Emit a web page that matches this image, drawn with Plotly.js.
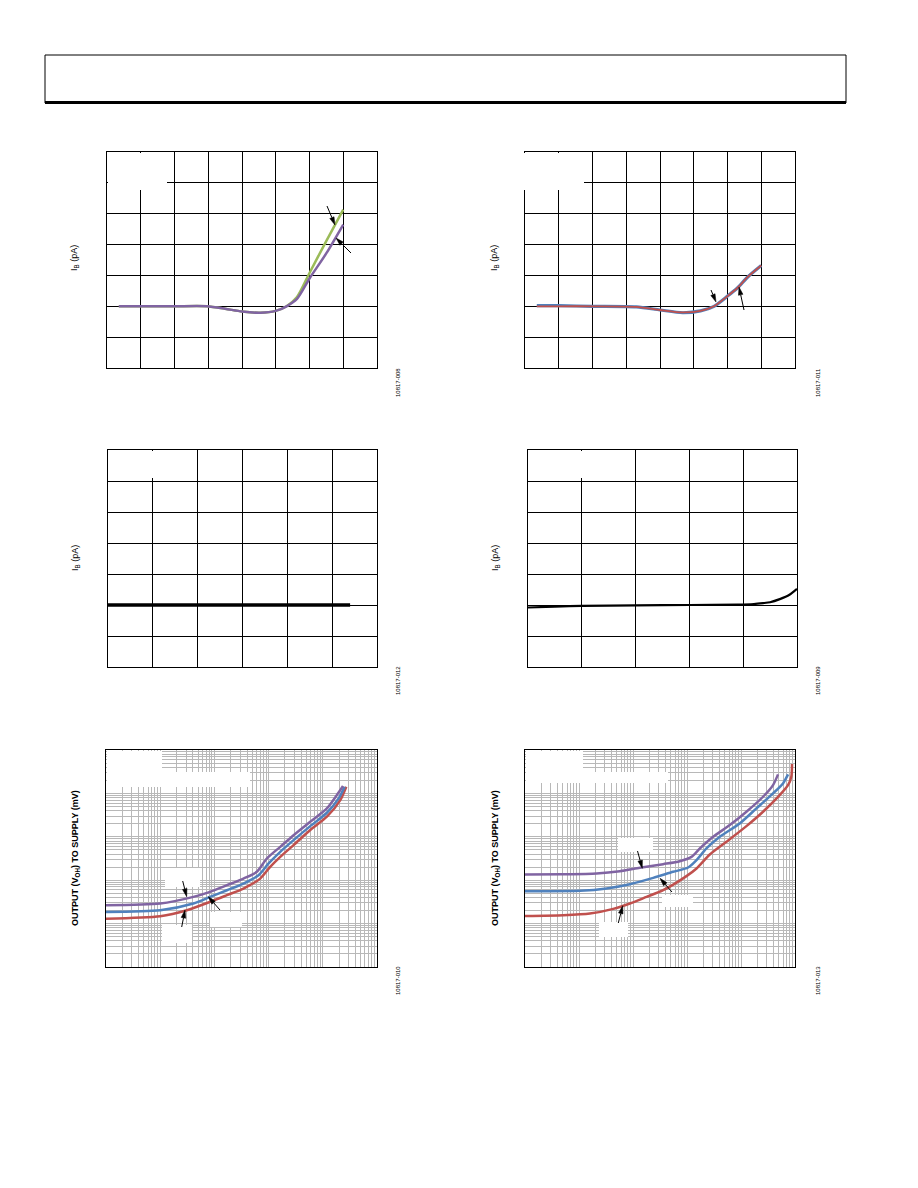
<!DOCTYPE html>
<html><head><meta charset="utf-8">
<script src="https://cdn.plot.ly/plotly-3.0.1.min.js"></script>
<style>html,body{margin:0;padding:0;background:#fff;} #chart{width:918px;height:1188px;}</style>
</head><body><div id="chart"></div>
<script>
// ---------- DATA ----------
// Figure 10817-008 (grid units)
const fig1X      = [0.35, 1, 2, 2.96, 3.5, 4.0, 4.54, 5.0, 5.32, 5.63, 6.0, 6.5, 7.0];
const fig1Green  = [0, 0, 0, 0, -0.08, -0.17, -0.21, -0.15, 0, 0.3, 1.08, 2.12, 3.13];
const fig1Purple = [0, 0, 0, 0, -0.08, -0.17, -0.21, -0.15, 0, 0.24, 0.9, 1.72, 2.65];
// Figure 10817-011
const fig2X    = [0.35, 1, 2, 3.3, 4.0, 4.67, 5.2, 5.6, 6.0, 6.3, 6.6, 7.0];
const fig2Blue = [0.02, 0.02, 0, -0.02, -0.12, -0.21, -0.15, 0, 0.33, 0.6, 0.95, 1.32];
const fig2Red  = [0, 0, 0, -0.02, -0.12, -0.2, -0.15, 0, 0.33, 0.6, 0.95, 1.32];
// Figure 10817-012
const fig3X = [0, 1, 2, 3, 4, 5, 5.4];
const fig3Y = [0, 0, 0, 0, 0, 0, 0];
// Figure 10817-009
const fig4X = [0, 0.5, 1, 2, 3, 3.9, 4.2, 4.37, 4.5, 4.68, 4.86, 5.0];
const fig4Y = [-0.08, -0.05, -0.03, -0.01, 0, 0.01, 0.03, 0.06, 0.09, 0.19, 0.33, 0.52];
// Figure 10817-010 (load current mA, output to supply mV)
const fig5PurpleX = [0.001, 0.01, 0.041, 0.083, 0.17, 0.344, 0.607, 0.929, 1.64, 2.89, 5.86, 11.9, 18.2, 23.6];
const fig5PurpleY = [2.65, 2.9, 4.12, 5.38, 7.67, 10.9, 15.6, 31.6, 58.7, 109, 222, 451, 916, 1476];
const fig5BlueX   = [0.001, 0.01, 0.041, 0.083, 0.17, 0.344, 0.652, 1.0, 1.64, 2.89, 5.86, 11.9, 19.6, 25.3];
const fig5BlueY   = [1.86, 2.03, 2.9, 4.12, 5.87, 8.38, 13.0, 24.3, 45.1, 83.8, 176, 358, 767, 1426];
const fig5RedX    = [0.001, 0.01, 0.031, 0.083, 0.17, 0.344, 0.70, 1.07, 1.64, 2.89, 5.86, 11.9, 21.0, 27.1];
const fig5RedY    = [1.30, 1.48, 2.03, 3.16, 4.51, 6.43, 10.9, 20.3, 34.5, 64.3, 143, 290, 701, 1426];
// Figure 10817-013
const fig6PurpleX = [0.001, 0.00512, 0.0212, 0.0571, 0.134, 0.362, 0.736, 1.21, 1.73, 3.05, 6.19, 12.6, 25.6, 39.2, 48.5];
const fig6PurpleY = [13.5, 13.7, 14.3, 16.1, 19.3, 23.4, 27.4, 34.5, 53.8, 100, 186, 378, 837, 1556, 2742];
const fig6BlueX   = [0.001, 0.0104, 0.0324, 0.0875, 0.237, 0.553, 1.05, 1.50, 2.29, 4.05, 9.48, 19.3, 39.2, 60.0, 74.3];
const fig6BlueY   = [5.57, 5.68, 6.43, 8.09, 11.3, 15.6, 19.6, 29.0, 53.8, 100, 203, 451, 1000, 1702, 2742];
const fig6RedX    = [0.001, 0.00512, 0.0159, 0.0431, 0.0875, 0.178, 0.362, 0.977, 1.50, 2.64, 5.37, 12.6, 25.6, 52.0, 74.3, 85.5, 88.1];
const fig6RedY    = [1.50, 1.56, 1.70, 2.18, 2.90, 4.12, 5.87, 12.4, 18.6, 39.1, 76.7, 176, 378, 916, 1556, 2427, 4753];

const figIds = ['10817-008', '10817-011', '10817-012', '10817-009', '10817-010', '10817-013'];
const yTitleIB = 'I<sub>B</sub> (pA)';
const yTitleOut = 'OUTPUT (V<sub>OH</sub>) TO SUPPLY (mV)';

// ---------- LAYOUT ----------
const W = 918, H = 1188;
const fx = p => p / W, fy = p => 1 - p / H;
const PURPLE = '#8064a2', GREEN = '#9bbb59', BLUE = '#4f81bd', RED = '#c0504d';

const panels = [
  {box:[107,377,152,368], log:false, xr:[0,8], yr:[-2,5]},
  {box:[525,795,152,368], log:false, xr:[0,8], yr:[-2,5]},
  {box:[108,377,450,667], log:false, xr:[0,6], yr:[-2,5]},
  {box:[528,797,450,667], log:false, xr:[0,5], yr:[-2,5]},
  {box:[106,377,750,967], log:true,  xr:[-3,2], yr:[-1,4]},
  {box:[525,795,750,967], log:true,  xr:[-3,2], yr:[-1,4]}
];

const layout = {
  width: W, height: H, margin:{l:0,r:0,t:0,b:0},
  paper_bgcolor:'#fff', plot_bgcolor:'#fff', showlegend:false,
  font:{family:'"Liberation Sans", Arial, sans-serif', size:8, color:'#000'},
  shapes:[], annotations:[]
};

panels.forEach((p, i) => {
  const n = i === 0 ? '' : String(i + 1);
  const common = {
    showline:true, mirror:true, linecolor:'#000', linewidth:1,
    showticklabels:false, ticks:'', zeroline:false, showgrid:true,
    gridcolor: p.log ? '#b8b8b8' : '#000', gridwidth:1, fixedrange:true
  };
  layout['xaxis' + n] = Object.assign({}, common, {
    domain:[fx(p.box[0]), fx(p.box[1])], anchor:'y' + n,
    type: p.log ? 'log' : 'linear', range:p.xr, dtick: p.log ? 'D1' : 1
  });
  layout['yaxis' + n] = Object.assign({}, common, {
    domain:[fy(p.box[3]), fy(p.box[2])], anchor:'x' + n,
    type: p.log ? 'log' : 'linear', range:p.yr, dtick: p.log ? 'D1' : 1
  });
  // figure id
  const idx = (i % 2 === 0) ? 398 : 818;
  const idy = [383, 383, 681, 681, 981, 981][i];
  layout.annotations.push({xref:'paper', yref:'paper', x:fx(idx), y:fy(idy), text:figIds[i],
    showarrow:false, textangle:-90, font:{size:6}, xanchor:'center', yanchor:'middle'});
  // y title
  const tx = (i % 2 === 0) ? 75 : 495;
  const ty = [258, 258, 558, 558, 858, 858][i];
  layout.annotations.push({xref:'paper', yref:'paper', x:fx(tx), y:fy(ty),
    text: p.log ? '<b>' + yTitleOut + '</b>' : yTitleIB,
    showarrow:false, textangle:-90, font:{size:9}, xanchor:'center', yanchor:'middle'});
});

// white label boxes (text removed in reference)
const whiteBoxes = [
  [108,167,153,190],[524,584,153,190],
  [109,196,451,478],[529,634,451,478],
  [107,162,751,772],[107,250,772,787],[165,200,868,887],[210,242,912,927],[162,192,925,943],
  [526,583,751,772],[526,668,772,783],[618,653,838,852],[662,693,895,907],[599,628,922,937]
];
whiteBoxes.forEach(b => layout.shapes.push({type:'rect', xref:'paper', yref:'paper',
  x0:fx(b[0]), x1:fx(b[1]), y0:fy(b[3]), y1:fy(b[2]), fillcolor:'#fff', line:{width:0}, layer:'above'}));

// header box
layout.shapes.push({type:'rect', xref:'paper', yref:'paper', x0:fx(45), x1:fx(846), y0:fy(103), y1:fy(55),
  line:{color:'#000', width:1}, fillcolor:'rgba(0,0,0,0)'});
layout.shapes.push({type:'line', xref:'paper', yref:'paper', x0:fx(45), x1:fx(846), y0:fy(102.5), y1:fy(102.5),
  line:{color:'#000', width:3}});

// pointer arrows (tail -> head, page pixels), drawn as line + filled head
const arrows = [
  [327,206,335,225], [351,253,336,238],
  [711,290,716,302], [744,310,739,287],
  [182.7,881,186.7,896.7], [220,910,208.3,896.7], [181.7,927,185,910],
  [637.5,851,642.3,868.3], [672,892,660,878.3], [618.3,923,622.7,905.7]
];
arrows.forEach(a => {
  const [tx, ty, hx, hy] = a;
  const len = Math.hypot(hx - tx, hy - ty), dx = (hx - tx) / len, dy = (hy - ty) / len;
  const L = 8, w = 2.3;
  const bx = hx - dx * L, by = hy - dy * L;
  layout.shapes.push({type:'line', xref:'paper', yref:'paper', x0:fx(tx), y0:fy(ty), x1:fx(bx), y1:fy(by),
    line:{color:'#000', width:1}, layer:'above'});
  const p1 = [bx - dy * w, by + dx * w], p2 = [bx + dy * w, by - dx * w];
  layout.shapes.push({type:'path', xref:'paper', yref:'paper',
    path:`M${fx(hx)},${fy(hy)} L${fx(p1[0])},${fy(p1[1])} L${fx(p2[0])},${fy(p2[1])} Z`,
    fillcolor:'#000', line:{color:'#000', width:0.5}, layer:'above'});
});

// ---------- TRACES ----------
const ln = (x, y, xa, ya, color, width, spline) => ({
  type:'scatter', mode:'lines', x:x, y:y, xaxis:xa, yaxis:ya,
  line:{color:color, width:width, shape: spline ? 'spline' : 'linear', smoothing:0.7}, hoverinfo:'skip'
});
const traces = [
  ln(fig1X, fig1Green, 'x', 'y', GREEN, 2.5, true),
  ln(fig1X, fig1Purple, 'x', 'y', PURPLE, 2.5, true),
  ln(fig2X, fig2Blue, 'x2', 'y2', BLUE, 3.2, true),
  ln(fig2X, fig2Red, 'x2', 'y2', RED, 1.8, true),
  ln(fig3X, fig3Y, 'x3', 'y3', '#000', 3.5, false),
  ln(fig4X, fig4Y, 'x4', 'y4', '#000', 2.2, true),
  ln(fig5RedX, fig5RedY, 'x5', 'y5', RED, 2.5, true),
  ln(fig5BlueX, fig5BlueY, 'x5', 'y5', BLUE, 2.5, true),
  ln(fig5PurpleX, fig5PurpleY, 'x5', 'y5', PURPLE, 2.5, true),
  ln(fig6RedX, fig6RedY, 'x6', 'y6', RED, 2.5, true),
  ln(fig6BlueX, fig6BlueY, 'x6', 'y6', BLUE, 2.5, true),
  ln(fig6PurpleX, fig6PurpleY, 'x6', 'y6', PURPLE, 2.5, true)
];

Plotly.newPlot('chart', traces, layout, {staticPlot:true, displayModeBar:false});
</script></body></html>
